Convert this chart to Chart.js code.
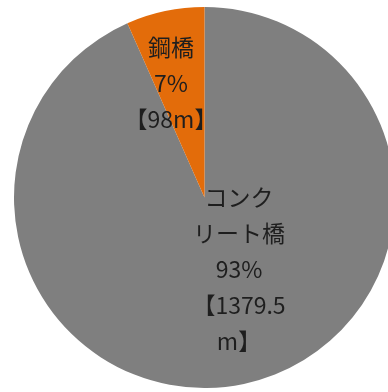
<!DOCTYPE html>
<html>
<head>
<meta charset="utf-8">
<script src="https://cdn.jsdelivr.net/npm/chart.js@4/dist/chart.umd.min.js"></script>
<style>
  html, body { margin: 0; padding: 0; background: #ffffff; overflow: hidden; width: 388px; height: 392px; }
  #wrap { position: absolute; left: 14px; top: 7px; width: 381px; height: 381px; }
</style>
</head>
<body>
<div id="wrap"><canvas id="c" width="381" height="381"></canvas></div>
<script>
const categories = ['コンクリート橋', '鋼橋'];
const lengths = [1379.5, 98];
const percentLabels = ['93%', '7%'];
const labelLines = [
  ['コンク', 'リート橋', '93%', '【1379.5', 'm】'],
  ['鋼橋', '7%', '【98m】']
];
const colors = ['#7f7f7f', '#e36c0a'];

const labelPlugin = {
  id: 'sliceLabels',
  afterDatasetsDraw(chart) {
    const ctx = chart.ctx;
    const meta = chart.getDatasetMeta(0);
    const offsets = [ {dx: 34.5, dy: -0.5}, {dx: -33.5, dy: -150.5} ];
    const lineH = 36;
    ctx.save();
    ctx.fillStyle = '#1e1e1e';
    ctx.font = '23px "Noto Sans CJK JP", "Noto Sans", sans-serif';
    ctx.textAlign = 'center';
    ctx.textBaseline = 'middle';
    meta.data.forEach((arc, i) => {
      const x0 = arc.x + offsets[i].dx;
      const y0 = arc.y + offsets[i].dy;
      labelLines[i].forEach((t, j) => {
        ctx.fillText(t, x0, y0 + j * lineH);
      });
    });
    ctx.restore();
  }
};

new Chart(document.getElementById('c'), {
  type: 'pie',
  data: {
    labels: categories,
    datasets: [{
      data: lengths,
      backgroundColor: colors,
      borderWidth: 0
    }]
  },
  options: {
    responsive: false,
    maintainAspectRatio: false,
    devicePixelRatio: 1,
    animation: false,
    layout: { padding: 0 },
    plugins: {
      legend: { display: false },
      tooltip: { enabled: false }
    }
  },
  plugins: [labelPlugin]
});
</script>
</body>
</html>
